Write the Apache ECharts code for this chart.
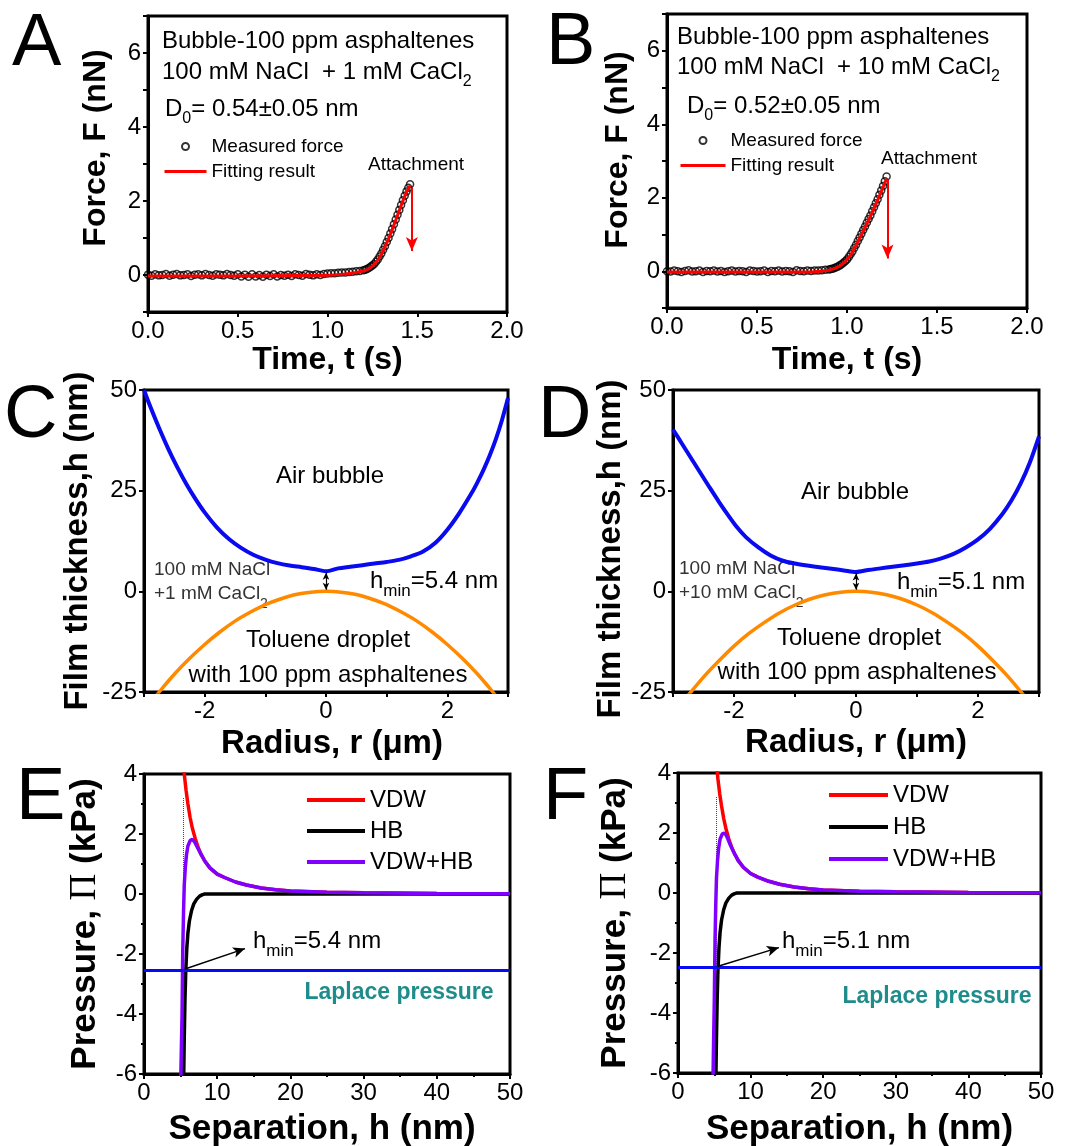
<!DOCTYPE html>
<html><head><meta charset="utf-8">
<script src="https://cdn.jsdelivr.net/npm/echarts@6/dist/echarts.min.js"></script>
<style>html,body{margin:0;padding:0;background:#fff}#c{width:1068px;height:1146px}</style>
</head><body><div id="c"></div><script>
// ---------- Panel A data ----------
const aTime = [0.00,0.02,0.04,0.06,0.08,0.10,0.12,0.14,0.16,0.18,
  0.20,0.22,0.24,0.26,0.28,0.30,0.32,0.34,0.36,0.38,
  0.40,0.42,0.44,0.46,0.48,0.50,0.52,0.54,0.56,0.58,
  0.60,0.62,0.64,0.66,0.68,0.70,0.72,0.74,0.76,0.78,
  0.80,0.82,0.84,0.86,0.88,0.90,0.92,0.94,0.96,0.98,
  1.00,1.02,1.04,1.06,1.08,1.10,1.12,1.14,1.16,1.18,
  1.20,1.21,1.22,1.23,1.24,1.25,1.26,1.27,1.28,1.29,
  1.30,1.31,1.32,1.33,1.34,1.35,1.36,1.37,1.38,1.39,
  1.40,1.41,1.42,1.43,1.44,1.45,1.46];
const aForce = [0.01,-0.02,0.02,-0.01,0.00,0.03,-0.02,0.01,0.03,-0.01,
  0.00,0.02,-0.03,0.01,0.02,-0.01,0.03,0.00,-0.02,0.02,
  0.01,-0.01,0.03,0.00,-0.02,0.02,-0.04,0.01,-0.05,0.02,
  -0.04,0.00,-0.05,0.01,-0.03,0.02,-0.04,0.00,-0.02,0.01,
  -0.03,0.02,0.00,-0.02,0.03,0.01,-0.01,0.02,0.00,0.03,
  0.04,0.05,0.05,0.06,0.07,0.07,0.08,0.09,0.10,0.11,
  0.13,0.14,0.16,0.19,0.22,0.26,0.30,0.36,0.42,0.50,
  0.58,0.68,0.78,0.89,1.00,1.12,1.24,1.37,1.50,1.63,
  1.76,1.89,2.02,2.14,2.26,2.36,2.45];
const aFitT = [0,0.5,1.0,1.1,1.15,1.2,1.22,1.24,1.26,1.28,1.30,1.32,1.34,1.36,1.38,1.40,1.42,1.44,1.46];
const aFitF = [-0.03,-0.03,-0.01,0.03,0.06,0.11,0.14,0.20,0.28,0.40,0.56,0.76,0.98,1.22,1.48,1.74,2.00,2.24,2.42];
const aArrow = [[1.47,2.35],[1.47,0.65]];

// ---------- Panel B data ----------
const bTime = [0.00,0.02,0.04,0.06,0.08,0.10,0.12,0.14,0.16,0.18,
  0.20,0.22,0.24,0.26,0.28,0.30,0.32,0.34,0.36,0.38,
  0.40,0.42,0.44,0.46,0.48,0.50,0.52,0.54,0.56,0.58,
  0.60,0.62,0.64,0.66,0.68,0.70,0.72,0.74,0.76,0.78,
  0.80,0.82,0.84,0.86,0.88,
  0.90,0.91,0.92,0.93,0.94,0.95,0.96,0.97,0.98,0.99,
  1.00,1.01,1.02,1.03,1.04,1.05,1.06,1.07,1.08,1.09,
  1.10,1.11,1.12,1.13,1.14,1.15,1.16,1.17,1.18,1.19,
  1.20,1.21,1.22];
const bForce = [0.00,-0.01,0.02,0.00,-0.02,0.01,0.03,-0.01,0.00,0.02,
  -0.02,0.01,0.00,0.02,-0.01,0.01,-0.02,0.00,0.02,-0.01,
  0.01,0.00,-0.02,0.02,0.01,-0.01,0.00,0.02,-0.02,0.01,
  0.00,0.02,-0.01,0.01,0.00,-0.02,0.03,0.01,0.00,0.02,
  0.01,0.02,0.02,0.03,0.04,
  0.05,0.06,0.07,0.09,0.11,0.13,0.16,0.19,0.23,0.27,
  0.32,0.39,0.46,0.54,0.63,0.72,0.82,0.92,1.02,1.12,
  1.22,1.32,1.42,1.52,1.63,1.74,1.85,1.96,2.08,2.20,
  2.32,2.45,2.58];
const bFitT = [0,0.5,0.8,0.85,0.9,0.93,0.96,0.99,1.02,1.05,1.08,1.11,1.14,1.17,1.2,1.22];
const bFitF = [-0.02,-0.02,-0.02,0.00,0.03,0.07,0.14,0.26,0.44,0.70,0.99,1.29,1.60,1.93,2.28,2.52];
const bArrow = [[1.225,2.5],[1.225,0.35]];

// ---------- Panel C data ----------
const cBubbleR = [-3.0,-2.9,-2.75,-2.6,-2.45,-2.3,-2.15,-2.0,-1.8,-1.6,-1.4,-1.2,-1.0,-0.8,-0.6,-0.4,-0.2,0,
  0.2,0.4,0.6,0.8,1.0,1.2,1.4,1.6,1.8,2.0,2.2,2.4,2.5,2.6,2.7,2.8,2.9,3.0];
const cBubbleH = [50,46.0,40.5,35.4,30.8,26.6,22.9,19.6,15.9,13.0,10.8,9.1,7.9,7.0,6.4,6.0,5.55,5.0,
  5.7,6.1,6.5,6.9,7.3,7.8,8.7,9.9,12.0,15.3,19.5,24.4,27.2,30.3,33.8,37.8,42.5,48.0];
const cDropR = [-3,-2.75,-2.5,-2.25,-2,-1.75,-1.5,-1.25,-1,-0.75,-0.5,-0.25,0,0.25,0.5,0.75,1,1.25,1.5,1.75,2,2.25,2.5,2.75,3];
const cDropH = [-29.7,-25.0,-20.6,-16.7,-13.2,-10.1,-7.4,-5.2,-3.3,-1.9,-0.8,-0.2,0,-0.2,-0.8,-1.9,-3.3,-5.2,-7.4,-10.1,-13.2,-16.7,-20.6,-25.0,-29.7];
const cGap = [[0,4.6],[0,0.4]];

// ---------- Panel D data ----------
const dBubbleR = [-3.0,-2.85,-2.7,-2.55,-2.4,-2.25,-2.1,-1.95,-1.8,-1.6,-1.4,-1.2,-1.0,-0.8,-0.6,-0.4,-0.2,0,
  0.2,0.4,0.6,0.8,1.0,1.2,1.4,1.6,1.8,2.0,2.2,2.4,2.55,2.7,2.85,3.0];
const dBubbleH = [40.2,36.6,33.0,29.4,25.8,22.3,19.0,15.9,13.4,10.9,8.9,7.6,6.9,6.4,6.0,5.6,5.2,4.8,
  5.3,5.7,6.1,6.5,6.9,7.4,8.2,9.3,10.9,12.9,15.6,19.2,22.6,26.8,32.0,38.5];
const dDropR = [-3,-2.75,-2.5,-2.25,-2,-1.75,-1.5,-1.25,-1,-0.75,-0.5,-0.25,0,0.25,0.5,0.75,1,1.25,1.5,1.75,2,2.25,2.5,2.75,3];
const dDropH = [-30.5,-25.8,-21.3,-17.3,-13.6,-10.4,-7.7,-5.3,-3.4,-1.9,-0.85,-0.2,0,-0.2,-0.85,-1.9,-3.4,-5.3,-7.7,-10.4,-13.6,-17.3,-21.3,-25.8,-30.5];
const dGap = [[0,4.4],[0,0.4]];

// ---------- Panel E data ----------
const eVdwH = [5.3,5.5,5.75,6.0,6.3,6.6,7.0,7.4,7.8,8.3,9.0,10,11,12.5,14,16,18,20,25,30,40,50];
const eVdwP = [4.6,4.0,3.45,3.0,2.55,2.2,1.85,1.55,1.32,1.1,0.87,0.66,0.55,0.4,0.3,0.2,0.14,0.1,0.06,0.04,0.015,0.008];
const eHbH = [5.4,5.5,5.6,5.7,5.85,6.0,6.2,6.5,6.8,7.2,7.6,8.0,8.3,10,20,30,40,50];
const eHbP = [-6.5,-4.8,-3.5,-2.6,-1.8,-1.3,-0.9,-0.55,-0.33,-0.17,-0.07,-0.02,0,0,0,0,0,0];
const eSumH = [5.0,5.1,5.2,5.3,5.4,5.5,5.65,5.8,6.0,6.3,6.6,6.9,7.3,7.8,8.3,9.0,10,11,12.5,14,16,18,20,25,30,40,50];
const eSumP = [-6.5,-5.2,-4.0,-1.8,-0.6,0.3,0.9,1.3,1.6,1.78,1.82,1.74,1.55,1.32,1.1,0.87,0.66,0.55,0.4,0.3,0.2,0.14,0.1,0.06,0.04,0.015,0.008];
const eLaplace = -2.55;
const eDotted = [[5.4,3.2],[5.4,-2.5]];
const eArrow = [[5.6,-2.5],[13.8,-1.82]];

// ---------- Panel F data ----------
const fVdwH = [5.3,5.5,5.75,6.0,6.3,6.6,7.0,7.4,7.8,8.3,9.0,10,11,12.5,14,16,18,20,25,30,40,50];
const fVdwP = [4.3,3.8,3.3,2.9,2.48,2.15,1.8,1.52,1.3,1.08,0.86,0.65,0.53,0.39,0.29,0.2,0.14,0.1,0.06,0.04,0.015,0.008];
const fHbH = [5.2,5.3,5.4,5.5,5.65,5.8,6.0,6.3,6.6,7.0,7.4,7.8,8.1,10,20,30,40,50];
const fHbP = [-6.5,-4.8,-3.5,-2.6,-1.8,-1.3,-0.9,-0.55,-0.33,-0.17,-0.07,-0.02,0,0,0,0,0,0];
const fSumH = [4.8,4.9,5.0,5.1,5.2,5.3,5.45,5.6,5.8,6.1,6.4,6.7,7.1,7.6,8.3,9.0,10,11,12.5,14,16,18,20,25,30,40,50];
const fSumP = [-6.5,-5.0,-3.6,-1.6,-0.4,0.5,1.1,1.5,1.8,1.97,2.0,1.9,1.66,1.4,1.08,0.86,0.65,0.53,0.39,0.29,0.2,0.14,0.1,0.06,0.04,0.015,0.008];
const fLaplace = -2.48;
const fDotted = [[5.2,3.2],[5.2,-2.45]];
const fArrow = [[5.4,-2.45],[13.9,-1.82]];

// ---------- build ----------
const FONT = 'Liberation Sans, Arial, sans-serif';
const zip = (xs, ys) => xs.map((x, i) => [x, ys[i]]);
const BLUE = '#0a0af0', ORANGE = '#ff8a00', RED = '#ff0000', PURPLE = '#8000ff', TEAL = '#1f8c8c';

const grids = [
  {left:148, top:16, width:359, height:296},
  {left:667, top:14, width:360, height:294},
  {left:144, top:390, width:364, height:302},
  {left:673, top:390, width:366, height:302},
  {left:144, top:774, width:366, height:300},
  {left:678, top:773, width:363, height:300}
].map(g => Object.assign(g, {show:true, borderColor:'#000', borderWidth:3, backgroundColor:'transparent', containLabel:false, outerBoundsMode:'none'}));

function axis(gridIndex, min, max, interval, name, nameGap, titleSize, extra) {
  const base = {
    type:'value', gridIndex, min, max, interval, name, nameLocation:'middle', nameGap,
    nameTextStyle:{fontFamily:FONT, fontSize:titleSize, fontWeight:'bold', color:'#000'},
    axisLine:{show:true, onZero:false, lineStyle:{color:'#000', width:3}},
    axisTick:{show:true, inside:false, length:5, lineStyle:{color:'#000', width:2}},
    minorTick:{show:false},
    splitLine:{show:false}, minorSplitLine:{show:false},
    axisLabel:{fontFamily:FONT, fontSize:24, color:'#000', margin:7}
  };
  if (extra) {
    for (const k in extra) {
      if (typeof extra[k] === 'object' && base[k] && typeof base[k] === 'object') base[k] = Object.assign({}, base[k], extra[k]);
      else base[k] = extra[k];
    }
  }
  return base;
}
const evenOnly = v => (Math.abs(Math.round(v)) % 2 === 0) ? String(Math.round(v)) : '';
const minor = {minorTick:{show:true, splitNumber:2, length:3, lineStyle:{color:'#000', width:2}}};
const piRich = {rich:{pi:{fontFamily:'Liberation Serif, Times New Roman, serif', fontWeight:'normal', fontSize:37, color:'#000'}}};

const xAxes = [
  axis(0, 0, 2, 0.5, 'Time, t (s)', 30, 32, {axisLabel:{formatter: v => v.toFixed(1)}}),
  axis(1, 0, 2, 0.5, 'Time, t (s)', 36, 32, {axisLabel:{formatter: v => v.toFixed(1)}}),
  axis(2, -3, 3, 1, 'Radius, r (\u03bcm)', 35, 33, {axisLabel:{formatter: evenOnly}, nameTextStyle:{padding:[0,0,0,12]}}),
  axis(3, -3, 3, 1, 'Radius, r (\u03bcm)', 34, 33, {axisLabel:{formatter: evenOnly}}),
  axis(4, 0, 50, 10, 'Separation, h (nm)', 38, 35, Object.assign({nameTextStyle:{padding:[0,10,0,0]}}, minor)),
  axis(5, 0, 50, 10, 'Separation, h (nm)', 39, 35, minor)
];
const yAxes = [
  axis(0, -1, 7, 1, 'Force, F (nN)', 36, 32, {axisLabel:{formatter: evenOnly}, nameTextStyle:{padding:[0,0,0,32]}}),
  axis(1, -1, 7, 1, 'Force, F (nN)', 33, 32, {axisLabel:{formatter: evenOnly}, nameTextStyle:{padding:[0,0,0,22]}}),
  axis(2, -25, 50, 25, 'Film thickness,h (nm)', 50, 33),
  axis(3, -25, 50, 25, 'Film thickness,h (nm)', 45, 33, {nameTextStyle:{padding:[0,16,0,0]}}),
  axis(4, -6, 4, 2, 'Pressure, {pi|\u03a0} (kPa)', 40, 35, Object.assign({nameTextStyle:piRich}, minor)),
  axis(5, -6, 4, 2, 'Pressure, {pi|\u03a0} (kPa)', 44, 35, Object.assign({nameTextStyle:piRich}, minor))
];

function ml(pair, opts) {
  return Object.assign({
    silent:true, animation:false, label:{show:false}, emphasis:{disabled:true},
    data:[[{coord:pair[0]},{coord:pair[1]}]]
  }, opts);
}
function lineS(name, gi, xs, ys, color, width, extra) {
  return Object.assign({
    type:'line', name, xAxisIndex:gi, yAxisIndex:gi, data:zip(xs, ys),
    symbol:'none', showSymbol:false, clip:true, smooth:false,
    lineStyle:{color, width}, itemStyle:{color}, emphasis:{disabled:true}
  }, extra || {});
}
function scat(name, gi, xs, ys) {
  return {
    type:'scatter', name, xAxisIndex:gi, yAxisIndex:gi, data:zip(xs, ys),
    symbol:'circle', symbolSize:7,
    itemStyle:{color:'rgba(255,255,255,0)', borderColor:'#000', borderWidth:1.5},
    emphasis:{disabled:true}
  };
}
const redArrow = p => ml(p, {symbol:['none','arrow'], symbolSize:[9,14], lineStyle:{color:RED, width:2, type:'solid'}});
const blackArrow = p => ml(p, {symbol:['none','arrow'], symbolSize:[8,12], lineStyle:{color:'#000', width:1.5, type:'solid'}});
const gapArrow = p => ml(p, {symbol:['arrow','arrow'], symbolSize:[5,7], lineStyle:{color:'#000', width:1.2, type:'solid'}});
const dotted = p => ml(p, {symbol:['none','none'], lineStyle:{color:'#444', width:1, type:'dotted'}});
const smoothC = {smooth:0.3};

const series = [
  scat('Measured force', 0, aTime, aForce),
  lineS('Fitting result', 0, aFitT, aFitF, RED, 3, {markLine: redArrow(aArrow)}),
  scat('Measured force', 1, bTime, bForce),
  lineS('Fitting result', 1, bFitT, bFitF, RED, 3, {markLine: redArrow(bArrow)}),
  lineS('Air bubble', 2, cBubbleR, cBubbleH, BLUE, 4, Object.assign({markLine: gapArrow(cGap)}, smoothC)),
  lineS('Toluene droplet', 2, cDropR, cDropH, ORANGE, 3.5, smoothC),
  lineS('Air bubble', 3, dBubbleR, dBubbleH, BLUE, 4, Object.assign({markLine: gapArrow(dGap)}, smoothC)),
  lineS('Toluene droplet', 3, dDropR, dDropH, ORANGE, 3.5, smoothC),
  lineS('VDW', 4, eVdwH, eVdwP, RED, 3.5),
  lineS('HB', 4, eHbH, eHbP, '#000', 3.5, {markLine: dotted(eDotted)}),
  lineS('VDW+HB', 4, eSumH, eSumP, PURPLE, 3.5),
  lineS('Laplace pressure', 4, [0,50], [eLaplace,eLaplace], BLUE, 3, {markLine: blackArrow(eArrow)}),
  lineS('VDW', 5, fVdwH, fVdwP, RED, 3.5),
  lineS('HB', 5, fHbH, fHbP, '#000', 3.5, {markLine: dotted(fDotted)}),
  lineS('VDW+HB', 5, fSumH, fSumP, PURPLE, 3.5),
  lineS('Laplace pressure', 5, [0,50], [fLaplace,fLaplace], BLUE, 3, {markLine: blackArrow(fArrow)})
];

const noDot = name => ({name, itemStyle:{opacity:0}});
function legend(left, top, data, iw, ih, gap, size, lh, lw) {
  return {
    show:true, orient:'vertical', left, top, padding:0, itemWidth:iw, itemHeight:ih, itemGap:gap,
    data, selectedMode:false, lineStyle:{width:lw},
    textStyle:{fontFamily:FONT, fontSize:size, color:'#000', lineHeight:lh}
  };
}
const legends = [
  legend(163, 137, [{name:'Measured force'}, noDot('Fitting result')], 42, 7, 6, 19, 17, 3),
  legend(679, 131, [{name:'Measured force'}, noDot('Fitting result')], 45, 7, 6, 19, 17, 3),
  legend(305, 788, [noDot('VDW'), noDot('HB'), noDot('VDW+HB')], 58, 14, 7, 24, 24, 4),
  legend(827, 783, [noDot('VDW'), noDot('HB'), noDot('VDW+HB')], 59, 14, 8, 24, 24, 4)
];

// ---------- texts ----------
function subRich(size, fill) {
  return {s:{fontFamily:FONT, fontSize:size, fill:fill, padding:[20,0,0,0]}};
}
function txt(x, y, text, size, opts) {
  const st = Object.assign({text, fontFamily:FONT, fontSize:size, fill:'#000', align:'left', verticalAlign:'middle'}, opts || {});
  return {type:'text', x, y, silent:true, style:st};
}
function rtxt(x, y, text, size, subSize, fill, opts) {
  return txt(x, y, text, size, Object.assign({fill, rich:subRich(subSize, fill)}, opts || {}));
}
const LET = 74;
const graphics = [
  txt(12, 45, 'A', LET), txt(546, 44, 'B', LET), txt(4, 417, 'C', LET),
  txt(538, 417, 'D', LET), txt(16, 799, 'E', LET), txt(543, 799, 'F', LET),
  // A
  txt(162, 41, 'Bubble-100 ppm asphaltenes', 24),
  rtxt(162, 72, '100 mM NaCl  + 1 mM CaCl{s|2}', 24, 16, '#000'),
  rtxt(165, 109, 'D{s|0}= 0.54\u00b10.05 nm', 24, 16, '#000'),
  txt(368, 165, 'Attachment', 19),
  // B
  txt(677, 37, 'Bubble-100 ppm asphaltenes', 24),
  rtxt(677, 67, '100 mM NaCl  + 10 mM CaCl{s|2}', 24, 16, '#000'),
  rtxt(687, 106, 'D{s|0}= 0.52\u00b10.05 nm', 24, 16, '#000'),
  txt(881, 159, 'Attachment', 19),
  // C
  txt(330, 476, 'Air bubble', 24, {align:'center'}),
  txt(154, 570, '100 mM NaCl', 19, {fill:'#333'}),
  rtxt(154, 594, '+1 mM CaCl{s|2}', 19, 14, '#333'),
  rtxt(370, 581, 'h{s|min}=5.4 nm', 24, 17, '#000'),
  txt(328, 640, 'Toluene droplet', 24, {align:'center'}),
  txt(328, 675, 'with 100 ppm asphaltenes', 24, {align:'center'}),
  // D
  txt(855, 492, 'Air bubble', 24, {align:'center'}),
  txt(679, 569, '100 mM NaCl', 19, {fill:'#333'}),
  rtxt(679, 593, '+10 mM CaCl{s|2}', 19, 14, '#333'),
  rtxt(897, 582, 'h{s|min}=5.1 nm', 24, 17, '#000'),
  txt(859, 638, 'Toluene droplet', 24, {align:'center'}),
  txt(857, 672, 'with 100 ppm asphaltenes', 24, {align:'center'}),
  // E
  rtxt(253, 941, 'h{s|min}=5.4 nm', 24, 17, '#000'),
  txt(399, 993, 'Laplace pressure', 23, {align:'center', fontWeight:'bold', fill:TEAL}),
  // F
  rtxt(782, 941, 'h{s|min}=5.1 nm', 24, 17, '#000'),
  txt(937, 997, 'Laplace pressure', 23, {align:'center', fontWeight:'bold', fill:TEAL})
];

const chart = echarts.init(document.getElementById('c'), null, {renderer:'canvas', width:1068, height:1146});
chart.setOption({
  backgroundColor:'#fff',
  animation:false,
  textStyle:{fontFamily:FONT},
  grid:grids, xAxis:xAxes, yAxis:yAxes, series, legend:legends,
  graphic:{elements:graphics}
});
</script></body></html>
